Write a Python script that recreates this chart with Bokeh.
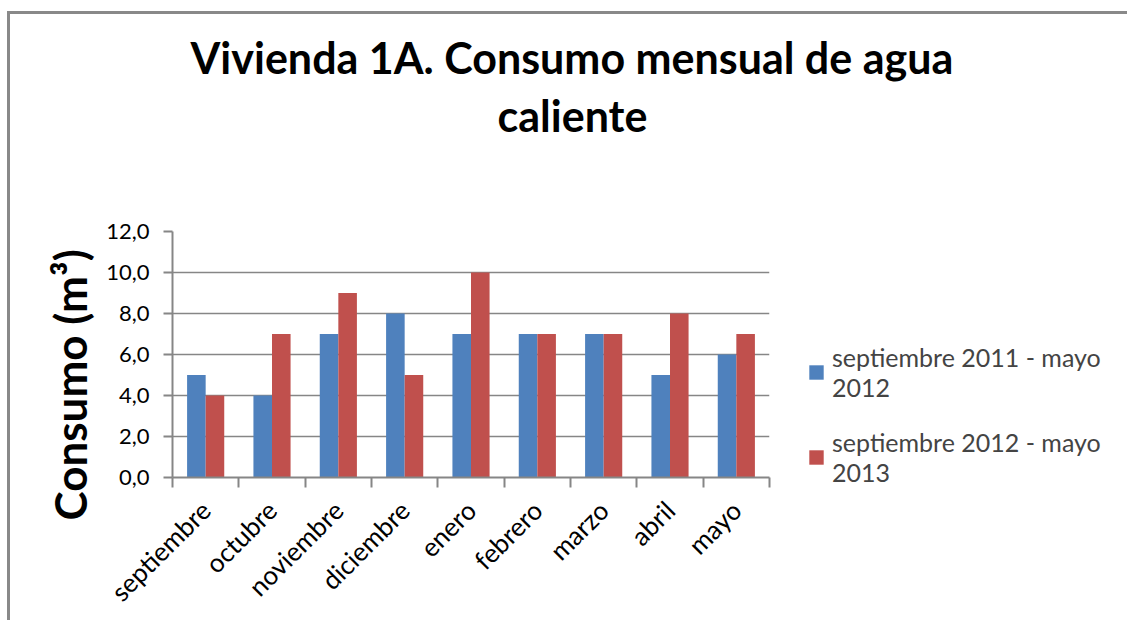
import math
from bokeh.plotting import figure
from bokeh.models import (Range1d, FixedTicker, CustomJSTickFormatter, Legend, LegendItem,
                          Title, LinearAxis)
from bokeh.embed import file_html
from bokeh.resources import INLINE

months = ["septiembre", "octubre", "noviembre", "diciembre", "enero",
          "febrero", "marzo", "abril", "mayo"]
serie_2011_2012 = [5, 4, 7, 8, 7, 7, 7, 5, 6]
serie_2012_2013 = [4, 7, 9, 5, 10, 7, 7, 8, 7]
series_names = ["septiembre 2011 - mayo\n2012", "septiembre 2012 - mayo\n2013"]
y_ticks = [0, 2, 4, 6, 8, 10, 12]
title_line1 = "Vivienda 1A. Consumo mensual de agua"
title_line2 = "caliente"
y_label = "Consumo (m³)"

FONT = "Lato"
BLUE = "#4F81BD"
RED = "#C0504D"
GRAY = "#868686"

n = len(months)
centers = [i + 0.5 for i in range(n)]
bw = 0.28
TITLE_X = 6.03   # horizontal centre of the chart title (layout position)

p = figure(frame_width=597, frame_height=246,
           x_range=Range1d(0, n), y_range=Range1d(0, 12),
           output_backend="svg", toolbar_location=None,
           min_border_left=162, min_border_right=340,
           min_border_top=217, min_border_bottom=130)
p.styles = {"border-left": "3px solid #898989", "border-top": "3px solid #898989",
            "margin-left": "7px", "margin-top": "11px"}
p.outline_line_color = None

# second title line, centred under the first one
t2 = LinearAxis(ticker=FixedTicker(ticks=[TITLE_X]),
                major_label_overrides={TITLE_X: title_line2})
t2.axis_line_color = None
t2.major_tick_line_color = None
t2.minor_tick_line_color = None
t2.major_tick_out = 0
t2.major_tick_in = 0
t2.minor_tick_out = 0
t2.minor_tick_in = 0
t2.major_label_standoff = 91
t2.major_label_text_font = FONT
t2.major_label_text_font_style = "bold"
t2.major_label_text_font_size = "43px"
t2.major_label_text_color = "#000000"
p.add_layout(t2, "above")

t1 = Title(text=title_line1, align="left", offset=18, standoff=8,
           text_font=FONT, text_font_style="bold", text_font_size="43px",
           text_color="#000000")
p.add_layout(t1, "above")

# y-axis label as a left title
yl = Title(text=y_label, align="left", offset=-43, standoff=15,
           text_font=FONT, text_font_style="bold", text_font_size="44px",
           text_color="#000000")
p.add_layout(yl, "left")

r1 = p.vbar(x=[c - bw / 2 for c in centers], top=serie_2011_2012, width=bw,
            fill_color=BLUE, line_color=None)
r2 = p.vbar(x=[c + bw / 2 for c in centers], top=serie_2012_2013, width=bw,
            fill_color=RED, line_color=None)

# x axis
xa = p.below[0]
xa.ticker = FixedTicker(ticks=centers, minor_ticks=list(range(n + 1)))
xa.major_label_overrides = {c: m for c, m in zip(centers, months)}
xa.major_label_orientation = math.pi / 4
xa.major_tick_out = 0
xa.major_tick_in = 0
xa.minor_tick_out = 10
xa.minor_tick_in = 0
xa.minor_tick_line_color = GRAY
xa.minor_tick_line_width = 2
xa.axis_line_color = GRAY
xa.axis_line_width = 2
xa.major_label_text_font = FONT
xa.major_label_text_font_size = "26px"
xa.major_label_text_color = "#000000"
xa.major_label_standoff = 18

# y axis
ya = p.yaxis[0]
ya.ticker = FixedTicker(ticks=y_ticks)
ya.formatter = CustomJSTickFormatter(code="return tick.toFixed(1).replace('.', ',')")
ya.major_tick_out = 9
ya.major_tick_in = 0
ya.minor_tick_out = 0
ya.minor_tick_in = 0
ya.major_tick_line_color = GRAY
ya.major_tick_line_width = 2
ya.axis_line_color = GRAY
ya.axis_line_width = 2
ya.major_label_text_font = FONT
ya.major_label_text_font_size = "22px"
ya.major_label_text_color = "#000000"
ya.major_label_standoff = 14

p.xgrid.visible = False
p.ygrid.ticker = FixedTicker(ticks=y_ticks)
p.ygrid.grid_line_color = GRAY
p.ygrid.grid_line_width = 1.5

legend = Legend(items=[LegendItem(label=series_names[0], renderers=[r1]),
                       LegendItem(label=series_names[1], renderers=[r2])],
                location=(38, -10))
legend.padding = 0
legend.margin = 0
legend.border_line_color = None
legend.background_fill_alpha = 0
legend.glyph_width = 18
legend.glyph_height = 18
legend.label_standoff = 7
legend.spacing = 25
legend.label_text_font = FONT
legend.label_text_font_size = "25px"
legend.label_text_line_height = 1.32
p.add_layout(legend, "right")

open("out.html", "w").write(file_html(p, INLINE))
